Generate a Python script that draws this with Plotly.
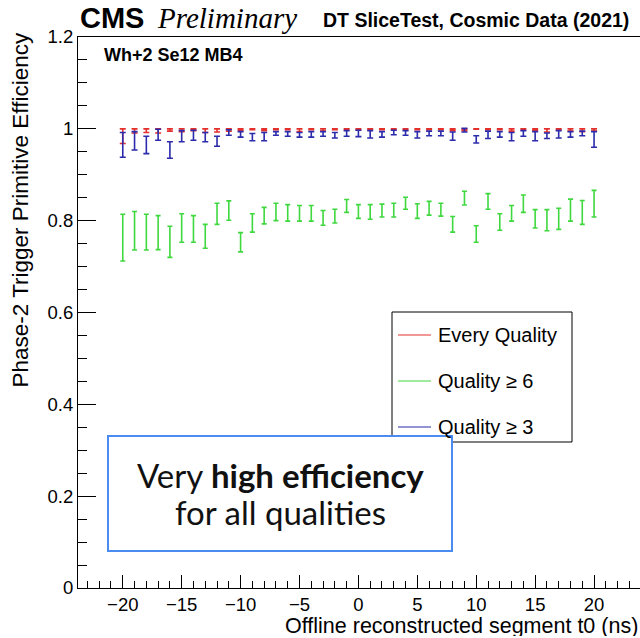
import plotly.graph_objects as go

# Segment t0 bins (ns)
t0 = list(range(-20, 21))

# Every Quality: efficiency with asymmetric uncertainties
eff_all = [0.984, 0.996, 0.996, 0.996, 0.998, 0.997, 0.998, 0.996, 0.997, 0.998,
           0.998, 0.999, 0.998, 0.999, 0.999, 0.997, 0.999, 0.997, 0.999, 0.999,
           0.999, 0.999, 0.999, 0.999, 0.999, 0.999, 0.999, 0.999, 0.998, 0.998,
           1.000, 0.999, 0.999, 0.997, 0.999, 0.998, 0.996, 0.999, 0.997, 0.997,
           0.997]
err_all_lo = [0.016, 0.005, 0.004, 0.005, 0.003, 0.003, 0.002, 0.004, 0.004, 0.003,
              0.002, 0.001, 0.002, 0.001, 0.001, 0.003, 0.001, 0.002, 0.001, 0.001,
              0.001, 0.001, 0.001, 0.001, 0.001, 0.001, 0.001, 0.001, 0.002, 0.002,
              0.001, 0.001, 0.001, 0.002, 0.001, 0.002, 0.003, 0.001, 0.002, 0.003,
              0.002]
err_all_hi = [0.016, 0.004, 0.004, 0.004, 0.002, 0.003, 0.002, 0.004, 0.003, 0.002,
              0.002, 0.001, 0.002, 0.001, 0.001, 0.003, 0.001, 0.003, 0.001, 0.001,
              0.001, 0.001, 0.001, 0.001, 0.001, 0.001, 0.001, 0.001, 0.002, 0.002,
              0.000, 0.001, 0.001, 0.003, 0.001, 0.002, 0.004, 0.001, 0.003, 0.003,
              0.003]

# Quality >= 6
eff_q6 = [0.763, 0.778, 0.775, 0.774, 0.754, 0.784, 0.782, 0.766, 0.815, 0.822,
          0.753, 0.795, 0.811, 0.819, 0.817, 0.816, 0.816, 0.806, 0.810, 0.832,
          0.820, 0.819, 0.822, 0.823, 0.838, 0.821, 0.827, 0.824, 0.792, 0.849,
          0.771, 0.842, 0.797, 0.816, 0.837, 0.804, 0.801, 0.804, 0.823, 0.818,
          0.837]
err_q6 = [0.051, 0.042, 0.039, 0.037, 0.034, 0.031, 0.029, 0.026, 0.023, 0.021,
          0.021, 0.020, 0.018, 0.019, 0.018, 0.017, 0.017, 0.016, 0.015, 0.014,
          0.015, 0.016, 0.014, 0.015, 0.013, 0.016, 0.015, 0.014, 0.017, 0.015,
          0.018, 0.017, 0.018, 0.017, 0.019, 0.020, 0.023, 0.023, 0.024, 0.026,
          0.029]

# Quality >= 3
eff_q3 = [0.965, 0.974, 0.965, 0.987, 0.954, 0.984, 0.986, 0.982, 0.973, 0.992,
          0.988, 0.982, 0.983, 0.990, 0.989, 0.987, 0.988, 0.989, 0.986, 0.990,
          0.990, 0.988, 0.988, 0.992, 0.991, 0.987, 0.990, 0.990, 0.984, 0.997,
          0.977, 0.987, 0.988, 0.983, 0.990, 0.984, 0.985, 0.988, 0.988, 0.990,
          0.977]
err_q3 = [0.027, 0.020, 0.019, 0.012, 0.018, 0.012, 0.011, 0.010, 0.011, 0.006,
          0.006, 0.008, 0.009, 0.004, 0.005, 0.005, 0.006, 0.005, 0.006, 0.006,
          0.007, 0.008, 0.006, 0.005, 0.005, 0.007, 0.005, 0.005, 0.009, 0.004,
          0.008, 0.008, 0.006, 0.009, 0.006, 0.010, 0.006, 0.008, 0.006, 0.005,
          0.017]

legend_labels = ["Every Quality", "Quality \u2265 6", "Quality \u2265 3"]
colors = ["#e4302c", "#3fd83f", "#2b2bab"]

W, H = 640, 638
L, R, T, B = 78, 0, 37, 50
PW, PH = W - L - R, H - T - B


def px(x):
    return (x - L) / PW


def py(y):
    return (H - B - y) / PH


SANS = "Liberation Sans, Arial, Helvetica, sans-serif"

fig = go.Figure()

series = [
    (eff_all, err_all_hi, err_all_lo, colors[0], 3),
    (eff_q6, err_q6, err_q6, colors[1], 2.5),
    (eff_q3, err_q3, err_q3, colors[2], 3),
]
for eff, ehi, elo, col, cap in series:
    fig.add_trace(go.Scatter(
        x=t0, y=eff, mode="markers",
        marker=dict(size=1, color="rgba(0,0,0,0)"),
        error_y=dict(type="data", symmetric=False, array=ehi, arrayminus=elo,
                     color=col, thickness=1.6, width=cap),
        showlegend=False, hoverinfo="skip",
    ))

axis_font = dict(family=SANS, size=18.5, color="black")

fig.update_xaxes(
    range=[-23.8, 23.9], showgrid=False, zeroline=False,
    showline=True, linecolor="black", linewidth=1, mirror=True,
    ticks="inside", ticklen=13, tickwidth=1, tickcolor="black",
    dtick=5, tick0=0, tickfont=axis_font,
    minor=dict(ticks="inside", ticklen=7, dtick=1, tickcolor="black", tickwidth=1, showgrid=False),
)
fig.update_yaxes(
    range=[0, 1.2], showgrid=False, zeroline=False,
    showline=True, linecolor="black", linewidth=1, mirror=False,
    ticks="inside", ticklen=18, tickwidth=1, tickcolor="black",
    dtick=0.2, tick0=0, tickfont=axis_font,
    minor=dict(ticks="inside", ticklen=9, dtick=0.05, tickcolor="black", tickwidth=1, showgrid=False),
)

shapes = []
annotations = []

# Legend frame and entries
shapes.append(dict(type="rect", xref="paper", yref="paper",
                   x0=px(392), x1=px(572), y0=py(442), y1=py(312),
                   line=dict(color="black", width=1), fillcolor="white", layer="above"))
for i, (lab, col) in enumerate(zip(legend_labels, colors)):
    yy = 335 + i * 46
    shapes.append(dict(type="line", xref="paper", yref="paper",
                       x0=px(398), x1=px(431), y0=py(yy), y1=py(yy),
                       line=dict(color=col, width=1.2), layer="above"))
    annotations.append(dict(xref="paper", yref="paper", x=px(436), y=py(yy),
                            xanchor="left", yanchor="middle", showarrow=False,
                            text=lab, font=dict(family=SANS, size=20, color="black")))

# Callout box, drawn over the legend frame
shapes.append(dict(type="rect", xref="paper", yref="paper",
                   x0=px(108), x1=px(452), y0=py(551), y1=py(436),
                   line=dict(color="#4a8bf2", width=2), fillcolor="white", layer="above"))
callout_font = dict(family="Lato, Open Sans, sans-serif", size=33, color="#111111")
annotations.append(dict(xref="paper", yref="paper", x=px(280), y=py(475), xanchor="center",
                        yanchor="middle", showarrow=False,
                        text="Very <b>high efficiency</b>", font=callout_font))
annotations.append(dict(xref="paper", yref="paper", x=px(280), y=py(512), xanchor="center",
                        yanchor="middle", showarrow=False,
                        text="for all qualities", font=callout_font))

# Header texts
annotations.append(dict(xref="paper", yref="paper", x=px(78), y=py(18), xanchor="left",
                        yanchor="middle", showarrow=False, text="<b>CMS</b>",
                        font=dict(family=SANS, size=29, color="black")))
annotations.append(dict(xref="paper", yref="paper", x=px(155), y=py(18), xanchor="left",
                        yanchor="middle", showarrow=False, text="<i>Preliminary</i>",
                        font=dict(family="Liberation Serif, Times New Roman, serif", size=29, color="black")))
annotations.append(dict(xref="paper", yref="paper", x=px(631), y=py(20), xanchor="right",
                        yanchor="middle", showarrow=False, text="<b>DT SliceTest, Cosmic Data (2021)</b>",
                        font=dict(family=SANS, size=19.5, color="black")))
annotations.append(dict(xref="paper", yref="paper", x=px(102), y=py(55), xanchor="left",
                        yanchor="middle", showarrow=False, text="<b>Wh+2 Se12 MB4</b>",
                        font=dict(family=SANS, size=18, color="black")))

# Axis titles
annotations.append(dict(xref="paper", yref="paper", x=px(20), y=py(31), xanchor="center",
                        yanchor="top", showarrow=False, textangle=-90,
                        text="Phase-2 Trigger Primitive Efficiency",
                        font=dict(family=SANS, size=22.5, color="black")))
annotations.append(dict(xref="paper", yref="paper", x=px(640), y=py(626), xanchor="right",
                        yanchor="middle", showarrow=False, height=20,
                        text="Offline reconstructed segment t0 (ns)",
                        font=dict(family=SANS, size=21.5, color="black")))

fig.update_layout(
    width=W, height=H,
    margin=dict(l=L, r=R, t=T, b=B),
    paper_bgcolor="white", plot_bgcolor="white",
    shapes=shapes, annotations=annotations,
    showlegend=False,
)

fig.write_html("out.html")
